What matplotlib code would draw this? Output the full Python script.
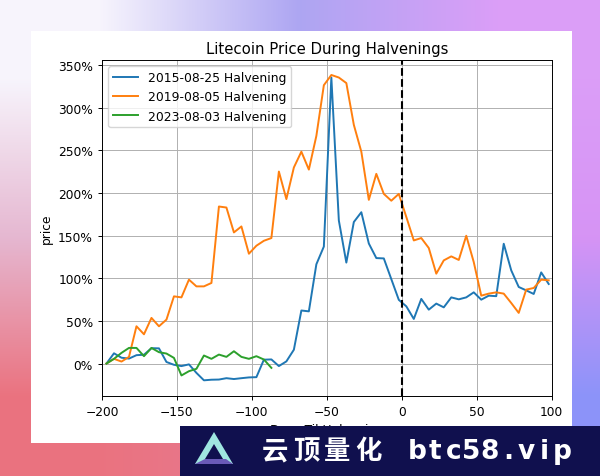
import numpy as np
import matplotlib
matplotlib.use('Agg')
import matplotlib.pyplot as plt
from matplotlib.patches import Rectangle, Polygon
from matplotlib.ticker import PercentFormatter, MultipleLocator

# days relative to the halving date, one sample every 5 days
days = np.arange(-197, 100, 5)

ltc_2015 = [0, 12, 6.8, 5.8, 9.8, 10.3, 18, 17.8, 1.8, -1.5,
            -3, -1, -11, -19.7, -19, -18.8, -17.2, -18.2, -17.2, -16.3,
            -16, 4.5, 4.8, -3, 2.5, 16.2, 62.2, 61.2, 116.4, 137.2,
            335.5, 167.8, 118.4, 166, 177.5, 140.8, 123.7, 123.3, 99, 74.7,
            67.1, 52.3, 75.8, 63.2, 70.3, 65.9, 77.6, 75.3, 77.6, 83.5,
            74.9, 79.6, 79, 140.5, 109.3, 89.8, 85.8, 81.6, 106.9, 93.3]

ltc_2019 = [0, 5.5, 2.3, 7.8, 43.7, 34.3, 53.5, 43.7, 51.5, 78.8,
            77.6, 98.4, 90.5, 90.5, 94.5, 184.2, 183, 153.8, 160.8, 128.8,
            138.2, 144, 147.2, 225.2, 192.9, 230, 248.5, 227.5, 267, 326.5,
            338.5, 335.5, 329, 280, 248.5, 192, 222.5, 199, 191, 199,
            172, 144.4, 147.2, 135.5, 105.4, 121, 125.7, 121.5, 149.9, 119,
            79.6, 82, 83.5, 82, 71, 59.4, 86.7, 88.6, 98.4, 97.6]

ltc_2023 = [0, 5.5, 12.5, 18.3, 18.3, 8.6, 18.3, 13.3, 11.7, 6.6,
            -14, -9, -6.2, 9.4, 5.5, 10.5, 7.8, 14.4, 7.8, 5.5,
            8.6, 4.7, -5.1]

labels = ['2015-08-25 Halvening', '2019-08-05 Halvening', '2023-08-03 Halvening']

fig = plt.figure(figsize=(6, 4.77), dpi=100)

# gradient backdrop behind the chart card
bg = fig.add_axes([0, 0, 1, 1], zorder=-3)
ctrl = np.array([
    [[0.97, 0.96, 0.99], [0.68, 0.65, 0.95], [0.86, 0.62, 0.97]],
    [[0.90, 0.72, 0.82], [0.80, 0.65, 0.90], [0.84, 0.58, 0.96]],
    [[0.92, 0.45, 0.50], [0.90, 0.48, 0.58], [0.55, 0.58, 0.98]],
])
bg.imshow(ctrl, extent=[0, 1, 0, 1], aspect='auto', interpolation='bilinear')
bg.set_axis_off()

fig.patches.append(Rectangle((31 / 600, 1 - 444 / 477), 541 / 600, 412 / 477,
                             transform=fig.transFigure, facecolor='white',
                             edgecolor='none', zorder=-2))

ax = fig.add_axes([0.170, 0.167, 0.7495, 0.705])
ax.plot(days, ltc_2015, color='#1f77b4', lw=1.4, label=labels[0])
ax.plot(days, ltc_2019, color='#ff7f0e', lw=1.4, label=labels[1])
ax.plot(days[:len(ltc_2023)], ltc_2023, color='#2ca02c', lw=1.4, label=labels[2])
ax.axvline(0, color='black', ls='--', lw=1.5)

ax.set_xlim(-200, 100)
ax.set_ylim(-38.5, 356)
ax.xaxis.set_major_locator(MultipleLocator(50))
ax.yaxis.set_major_locator(MultipleLocator(50))
ax.yaxis.set_major_formatter(PercentFormatter(decimals=0))
ax.grid(True, color='#b0b0b0', lw=0.7)
ax.tick_params(labelsize=8.8, width=0.7, length=3)
for s in ax.spines.values():
    s.set_linewidth(0.7)
ax.set_title('Litecoin Price During Halvenings', fontsize=10.7, pad=5)
ax.set_xlabel('Days Til Halvening', fontsize=8.8, labelpad=3.5)
ax.set_ylabel('price', fontsize=8.8)
ax.legend(loc='upper left', fontsize=8.9)

# watermark banner
wm = fig.add_axes([180 / 600, 0, 420 / 600, 50 / 477], zorder=5)
wm.set_xlim(0, 420)
wm.set_ylim(0, 50)
wm.set_facecolor('#10104e')
wm.set_xticks([])
wm.set_yticks([])
for s in wm.spines.values():
    s.set_visible(False)
wm.add_patch(Polygon([[15, 12], [53, 12], [34, 44]], closed=True, facecolor='#9fe6e0', edgecolor='none'))
wm.add_patch(Polygon([[25, 17], [43, 17], [34, 32]], closed=True, facecolor='#10104e', edgecolor='none'))
wm.add_patch(Polygon([[15, 12], [53, 12], [46, 17], [25, 17]], closed=True, facecolor='#6a5ab8', edgecolor='none'))
for i, ch in enumerate('云顶量化'):
    wm.text(95 + i * 31, 25, ch, color='white', fontsize=19, fontweight='bold',
            family=['Noto Sans CJK SC', 'DejaVu Sans'], ha='center', va='center')
for i, ch in enumerate('btc58.vip'):
    wm.text(237 + i * 18.2, 25, ch, color='white', fontsize=19, fontweight='bold',
            family='DejaVu Sans', ha='center', va='center')

plt.savefig('out.png', dpi=100)
